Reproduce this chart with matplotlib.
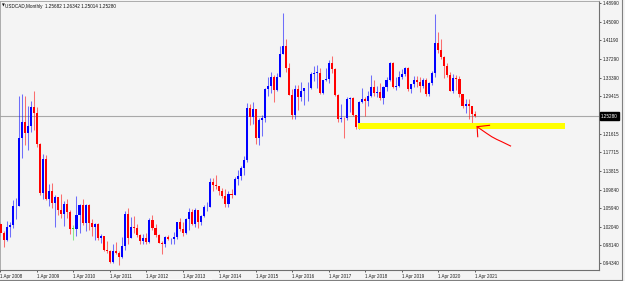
import matplotlib
matplotlib.use('Agg')
import matplotlib.pyplot as plt
from matplotlib.patches import Rectangle
from matplotlib.lines import Line2D

# USDCAD monthly candles, first bar = Apr 2008, last bar = Apr 2021
first_year = 2008
opens = [
    1.0265, 1.0075, 0.9915, 1.0195, 1.0240, 1.0630, 1.0640, 1.2060, 1.2400,
    1.2180, 1.2330, 1.2720, 1.2600, 1.1935, 1.0920, 1.1630, 1.0780, 1.0950, 1.0710, 1.0825, 1.0560,
    1.0465, 1.0690, 1.0520, 1.0155, 1.0155, 1.0440, 1.0650, 1.0290, 1.0660, 1.0290, 1.0200, 1.0260,
    0.9965, 1.0010, 0.9720, 0.9700, 0.9460, 0.9690, 0.9645, 0.9560, 0.9790, 1.0480, 0.9970, 1.0190,
    1.0185, 1.0030, 0.9900, 0.9975, 0.9880, 1.0350, 1.0180, 1.0030, 0.9860, 0.9830, 0.9990, 0.9940,
    0.9950, 0.9990, 1.0305, 1.0160, 1.0080, 1.0365, 1.0520, 1.0270, 1.0545, 1.0300, 1.0430, 1.0610,
    1.0620, 1.1140, 1.1070, 1.1050, 1.0960, 1.0840, 1.0675, 1.0900, 1.0870, 1.1200, 1.1270, 1.1430,
    1.1600, 1.2700, 1.2500, 1.2670, 1.2070, 1.2440, 1.2480, 1.3090, 1.3160, 1.3340, 1.3080, 1.3360,
    1.3840, 1.4010, 1.3530, 1.2980, 1.2550, 1.3100, 1.2920, 1.3050, 1.3110, 1.3120, 1.3410, 1.3430,
    1.3440, 1.3020, 1.3280, 1.3300, 1.3650, 1.3510, 1.2970, 1.2460, 1.2490, 1.2480, 1.2890, 1.2900,
    1.2560, 1.2300, 1.2830, 1.2890, 1.2840, 1.2960, 1.3150, 1.3010, 1.3040, 1.2910, 1.3150, 1.3290,
    1.3640, 1.3130, 1.3170, 1.3350, 1.3420, 1.3540, 1.3090, 1.3200, 1.3290, 1.3240, 1.3170, 1.3280,
    1.2990, 1.3230, 1.3430, 1.4070, 1.3920, 1.3780, 1.3580, 1.3390, 1.3060, 1.3320, 1.3315, 1.3000,
    1.2730, 1.2790, 1.2740, 1.25682,
]
highs = [
    1.0300, 1.0120, 1.0330, 1.0310, 1.0760, 1.0810, 1.2945, 1.2999, 1.2960,
    1.2750, 1.2850, 1.3065, 1.2710, 1.1960, 1.1725, 1.1700, 1.1100, 1.1120, 1.0880, 1.0830, 1.0900,
    1.0750, 1.0780, 1.0560, 1.0240, 1.0855, 1.0680, 1.0780, 1.0680, 1.0670, 1.0360, 1.0280, 1.0290,
    1.0050, 1.0010, 0.9900, 0.9720, 0.9850, 0.9890, 0.9700, 0.9990, 1.0530, 1.0600, 1.0400, 1.0420,
    1.0270, 1.0050, 1.0050, 1.0080, 1.0380, 1.0450, 1.0260, 1.0040, 0.9910, 1.0010, 1.0030, 0.9960,
    1.0090, 1.0310, 1.0380, 1.0300, 1.0380, 1.0590, 1.0580, 1.0600, 1.0560, 1.0450, 1.0650, 1.0730,
    1.1220, 1.1220, 1.1280, 1.1060, 1.1010, 1.0990, 1.0950, 1.0990, 1.1240, 1.1390, 1.1470, 1.1680,
    1.2800, 1.2790, 1.2830, 1.2680, 1.2490, 1.2560, 1.3110, 1.3350, 1.3460, 1.3400, 1.3440, 1.4000,
    1.4690, 1.4140, 1.3650, 1.3100, 1.3190, 1.3190, 1.3250, 1.3120, 1.3250, 1.3450, 1.3590, 1.3600,
    1.3540, 1.3290, 1.3530, 1.3700, 1.3790, 1.3540, 1.3000, 1.2780, 1.2510, 1.2920, 1.2920, 1.2920,
    1.2560, 1.2850, 1.3120, 1.2940, 1.3050, 1.3390, 1.3290, 1.3160, 1.3230, 1.3170, 1.3360, 1.3670,
    1.3660, 1.3340, 1.3470, 1.3520, 1.3560, 1.3560, 1.3200, 1.3380, 1.3380, 1.3350, 1.3330, 1.3320,
    1.3250, 1.3470, 1.4670, 1.4300, 1.4150, 1.3800, 1.3650, 1.3460, 1.3420, 1.3390, 1.3370, 1.3000,
    1.2880, 1.2880, 1.2740, 1.26342,
]
lows = [
    1.0000, 0.9770, 0.9900, 0.9995, 1.0180, 1.0370, 1.0630, 1.1640, 1.1920,
    1.1820, 1.2190, 1.2240, 1.1875, 1.0870, 1.0780, 1.0770, 1.0630, 1.0590, 1.0205, 1.0440, 1.0380,
    1.0210, 1.0380, 1.0055, 0.9930, 1.0010, 1.0070, 1.0230, 1.0120, 1.0140, 1.0000, 0.9930, 0.9930,
    0.9860, 0.9690, 0.9660, 0.9445, 0.9440, 0.9620, 0.9406, 0.9540, 0.9720, 0.9850, 0.9960, 1.0080,
    0.9990, 0.9840, 0.9840, 0.9850, 0.9860, 1.0140, 0.9980, 0.9860, 0.9630, 0.9770, 0.9920, 0.9830,
    0.9840, 0.9940, 1.0110, 1.0010, 1.0060, 1.0140, 1.0240, 1.0190, 1.0180, 1.0240, 1.0410, 1.0540,
    1.0620, 1.0950, 1.0990, 1.0860, 1.0810, 1.0620, 1.0620, 1.0810, 1.0870, 1.1080, 1.1190, 1.1280,
    1.1570, 1.2350, 1.2370, 1.1940, 1.1920, 1.2110, 1.2410, 1.2950, 1.3010, 1.2830, 1.3050, 1.3340,
    1.3840, 1.3450, 1.2970, 1.2460, 1.2460, 1.2650, 1.2840, 1.2760, 1.2840, 1.3100, 1.3270, 1.3120,
    1.3000, 1.3000, 1.3260, 1.3230, 1.3440, 1.2950, 1.2410, 1.2400, 1.2060, 1.2440, 1.2610, 1.2530,
    1.2250, 1.2250, 1.2800, 1.2530, 1.2730, 1.2920, 1.2960, 1.2930, 1.2870, 1.2780, 1.3050, 1.3260,
    1.3110, 1.3070, 1.3150, 1.3300, 1.3380, 1.3060, 1.3020, 1.3140, 1.3140, 1.3040, 1.3120, 1.2950,
    1.2950, 1.3180, 1.3340, 1.3850, 1.3720, 1.3320, 1.3350, 1.3050, 1.3020, 1.3080, 1.2930, 1.2700,
    1.2590, 1.2470, 1.2370, 1.25014,
]
closes = [
    1.0075, 0.9915, 1.0195, 1.0240, 1.0630, 1.0640, 1.2060, 1.2400, 1.2180,
    1.2330, 1.2720, 1.2600, 1.1935, 1.0920, 1.1630, 1.0780, 1.0950, 1.0710, 1.0825, 1.0560, 1.0465,
    1.0690, 1.0520, 1.0155, 1.0155, 1.0440, 1.0650, 1.0290, 1.0660, 1.0290, 1.0200, 1.0260, 0.9965,
    1.0010, 0.9720, 0.9700, 0.9460, 0.9690, 0.9645, 0.9560, 0.9790, 1.0480, 0.9970, 1.0190, 1.0185,
    1.0030, 0.9900, 0.9975, 0.9880, 1.0350, 1.0180, 1.0030, 0.9860, 0.9830, 0.9990, 0.9940, 0.9950,
    0.9990, 1.0305, 1.0160, 1.0080, 1.0365, 1.0520, 1.0270, 1.0545, 1.0300, 1.0430, 1.0610, 1.0620,
    1.1140, 1.1070, 1.1050, 1.0960, 1.0840, 1.0675, 1.0900, 1.0870, 1.1200, 1.1270, 1.1430, 1.1600,
    1.2700, 1.2500, 1.2670, 1.2070, 1.2440, 1.2480, 1.3090, 1.3160, 1.3340, 1.3080, 1.3360, 1.3840,
    1.4010, 1.3530, 1.2980, 1.2550, 1.3100, 1.2920, 1.3050, 1.3110, 1.3120, 1.3410, 1.3430, 1.3440,
    1.3020, 1.3280, 1.3300, 1.3650, 1.3510, 1.2970, 1.2460, 1.2490, 1.2480, 1.2890, 1.2900, 1.2560,
    1.2300, 1.2830, 1.2890, 1.2840, 1.2960, 1.3150, 1.3010, 1.3040, 1.2910, 1.3150, 1.3290, 1.3640,
    1.3130, 1.3170, 1.3350, 1.3420, 1.3540, 1.3090, 1.3200, 1.3290, 1.3240, 1.3170, 1.3280, 1.2990,
    1.3230, 1.3430, 1.4070, 1.3920, 1.3780, 1.3580, 1.3390, 1.3060, 1.3320, 1.3315, 1.3000, 1.2730,
    1.2790, 1.2740, 1.2568, 1.25280,
]

price_ticks = [0.94340, 0.98140, 1.02040, 1.05940, 1.09840, 1.13815, 1.17715,
               1.21615, 1.29415, 1.33390, 1.37290, 1.41190, 1.45090, 1.48990]
last_price = 1.25280

# support zone and hand-drawn arrow (month index, price)
zone_start, zone_end = 117.6, 185.7
zone_low, zone_high = 1.2251, 1.2389
arrow_x = [167.8, 164.9, 163.2, 161.6, 159.9, 156.8]
arrow_y = [1.1900, 1.1990, 1.2040, 1.2095, 1.2167, 1.2305]
head_x = [160.9, 156.8, 157.0]
head_y = [1.2335, 1.2305, 1.2095]

bg = '#f4f4f4'
bull, bear, doji = '#0000ff', '#ff0000', '#33dd33'

fig = plt.figure(figsize=(6.25, 2.81), dpi=100, facecolor=bg)
ax = fig.add_axes([0, 11 / 281, 599 / 625, 269 / 281], facecolor=bg)

for i, (o, h, l, c) in enumerate(zip(opens, highs, lows, closes)):
    col = bull if c > o else (bear if c < o else doji)
    ax.vlines(i, l, h, color=col, lw=0.75, alpha=0.55, zorder=2)
    body = max(abs(c - o), 0.0015)
    ax.bar(i, body, bottom=min(o, c), width=0.68, color=col, lw=0, zorder=3)

ax.axhline(last_price, color='#a8a8a8', lw=0.8, zorder=1)
ax.add_patch(Rectangle((zone_start, zone_low), zone_end - zone_start,
                       zone_high - zone_low, color='#ffff00', lw=0, zorder=4))
ax.plot(arrow_x, arrow_y, color='#ff0000', lw=0.8, zorder=5)
ax.plot(head_x, head_y, color='#ff0000', lw=0.8, zorder=5)

ax.set_xlim(-0.164, 196.9)
ax.set_ylim(0.92932, 1.49475)

fnt = 'Liberation Sans'
ax.yaxis.tick_right()
ax.set_yticks(price_ticks)
ax.set_yticklabels([f'{p:.5f}' for p in price_ticks], fontsize=3.3, family=fnt)
ax.tick_params(axis='y', length=1.5, width=0.5, pad=1.2, colors='#202020')

years = list(range(first_year, 2022))
ax.set_xticks([12 * k for k in range(len(years))])
ax.set_xticklabels([f'1 Apr {y}' for y in years], fontsize=3.3, family=fnt, ha='left')
ax.tick_params(axis='x', length=1.5, width=0.5, pad=1.5, colors='#202020')

for s in ['right', 'bottom']:
    ax.spines[s].set_color('#707070')
    ax.spines[s].set_linewidth(0.8)
for s in ['left', 'top']:
    ax.spines[s].set_color('#a0a0a0')
    ax.spines[s].set_linewidth(0.6)

ax.text(0.003, 0.99, '\u25bc', transform=ax.transAxes, fontsize=2.6, va='top', color='#101010')
ax.text(0.009, 0.99, 'USDCAD,Monthly  1.25682 1.26342 1.25014 1.25280',
        transform=ax.transAxes, fontsize=3.3, family=fnt, va='top', color='#101010')

ax.annotate(f'{last_price:.5f}', xy=(1, last_price), xycoords=('axes fraction', 'data'),
            xytext=(1.5, 0), textcoords='offset points', va='center', ha='left',
            fontsize=3.3, family=fnt, color='white',
            bbox=dict(boxstyle='square,pad=0.25', fc='black', ec='black'))

# window frame: outer right edge and bottom tab strip
fig.add_artist(Line2D([622 / 625, 622 / 625], [1.5 / 281, 1], color='#808080', lw=0.8))
fig.add_artist(Line2D([0, 622 / 625], [1.5 / 281, 1.5 / 281], color='#808080', lw=0.8))
fig.add_artist(Rectangle((158 / 625, 0), 54 / 625, 2.5 / 281, color='white', lw=0))

fig.savefig('out.png', dpi=100, facecolor=bg)
